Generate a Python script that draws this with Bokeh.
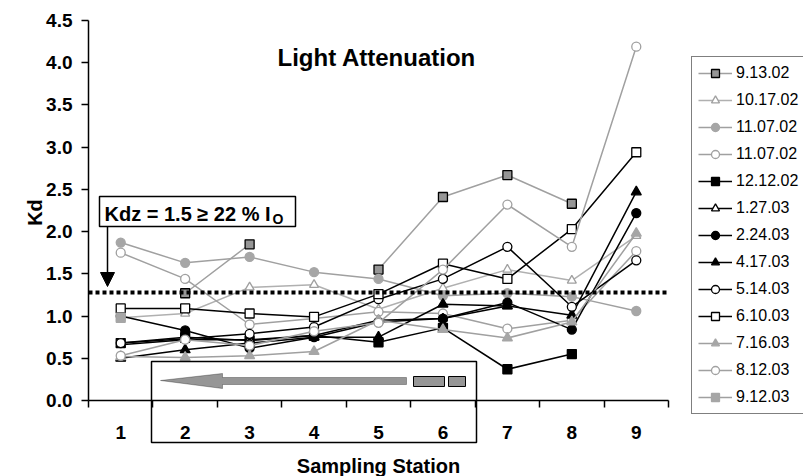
import numpy as np
from bokeh.plotting import figure
from bokeh.models import (FixedTicker, PrintfTickFormatter, Label, BoxAnnotation,
                          PolyAnnotation, Arrow, NormalHead, Legend, LegendItem, ColumnDataSource)
from bokeh.embed import file_html
from bokeh.resources import INLINE

nan = np.nan

stations = [1, 2, 3, 4, 5, 6, 7, 8, 9]
y_ticks = [0.0, 0.5, 1.0, 1.5, 2.0, 2.5, 3.0, 3.5, 4.0, 4.5]

labels = ["9.13.02", "10.17.02", "11.07.02", "11.07.02", "12.12.02", "1.27.03", "2.24.03",
          "4.17.03", "5.14.03", "6.10.03", "7.16.03", "8.12.03", "9.12.03"]

kd_091302 = [nan, 1.27, 1.85, nan, 1.55, 2.41, 2.67, 2.33, nan]
kd_101702 = [0.98, 1.03, 1.34, 1.37, 1.08, 1.33, 1.55, 1.42, 1.95]
kd_110702a = [1.87, 1.63, 1.70, 1.52, 1.44, 1.24, 1.27, 1.23, 1.06]
kd_110702b = [1.75, 1.44, 0.90, 0.97, 1.05, 1.03, 0.85, 0.95, 1.77]
kd_121202 = [0.68, 0.75, 0.71, 0.77, 0.69, 0.86, 0.37, 0.55, nan]
kd_012703 = [0.66, 0.72, 0.72, 0.77, 0.95, 0.97, 1.12, nan, nan]
kd_022403 = [1.00, 0.83, 0.62, 0.75, 0.93, 0.97, 1.16, 0.84, 2.22]
kd_041703 = [0.50, 0.60, 0.68, 0.75, 0.75, 1.14, 1.12, 1.01, 2.47]
kd_051403 = [0.68, 0.73, 0.79, 0.87, 1.20, 1.44, 1.82, 1.11, 1.66]
kd_061003 = [1.09, 1.09, 1.03, 0.99, 1.26, 1.62, 1.44, 2.03, 2.94]
kd_071603 = [0.52, 0.51, 0.53, 0.58, 0.95, 0.84, 0.74, 0.93, 1.98]
kd_081203 = [0.53, 0.72, 0.65, 0.82, 0.92, 1.55, 2.32, 1.82, 4.19]
kd_091203 = [0.98, nan, nan, nan, nan, nan, nan, nan, nan]

threshold = 1.28

series = [kd_091302, kd_101702, kd_110702a, kd_110702b, kd_121202, kd_012703, kd_022403,
          kd_041703, kd_051403, kd_061003, kd_071603, kd_081203, kd_091203]

G = "#A0A0A0"
styles = [
    (G, "square", "#969696", "black", 9),
    ("#B0B0B0", "triangle", "white", "#A0A0A0", 9),
    (G, "circle", "#A6A6A6", "#A6A6A6", 9),
    (G, "circle", "white", "#A0A0A0", 9),
    ("black", "square", "black", "black", 9),
    ("black", "triangle", "white", "black", 9),
    ("black", "circle", "black", "black", 9),
    ("black", "triangle", "black", "black", 10),
    ("black", "circle", "white", "black", 9),
    ("black", "square", "white", "black", 9),
    (G, "triangle", "#A6A6A6", "#A6A6A6", 10),
    (G, "circle", "white", "#A0A0A0", 9),
    (G, "square", "#A6A6A6", "#A6A6A6", 9),
]

FONT = "Liberation Sans"

# pixel geometry of the plotting area (x: 0.5..9.5 -> 88..668, y: 0..4.5 -> 400..20)
W, H = 803, 476
XL, XR, YB, YT = 88, 668, 400, 20
kx = (XR - XL) / 9.0
ky = (YB - YT) / 4.5
x_start = 0.5 - XL / kx
x_end = 0.5 + (W - XL) / kx
y_start = -(H - YB) / ky
y_end = 4.5 + YT / ky

p = figure(width=W, height=H, x_range=(x_start, x_end), y_range=(y_start, y_end),
           output_backend="svg", toolbar_location=None,
           min_border_left=0, min_border_right=0, min_border_top=0, min_border_bottom=0)
p.outline_line_color = None
p.xgrid.visible = False
p.ygrid.visible = False
p.background_fill_color = "white"
p.border_fill_color = "white"

# axes
p.yaxis.fixed_location = 0.5
p.yaxis.bounds = (0, 4.5)
p.yaxis.ticker = FixedTicker(ticks=y_ticks)
p.yaxis.formatter = PrintfTickFormatter(format="%.1f")
p.yaxis.major_tick_out = 7
p.yaxis.major_tick_in = 0
p.yaxis.minor_tick_out = 0
p.yaxis.minor_tick_in = 0
p.yaxis.major_label_standoff = 9

p.xaxis.fixed_location = 0
p.xaxis.bounds = (0.5, 9.5)
p.xaxis.ticker = FixedTicker(ticks=stations, minor_ticks=[s - 0.5 for s in stations] + [9.5])
p.xaxis.major_tick_out = 0
p.xaxis.major_tick_in = 0
p.xaxis.minor_tick_out = 7
p.xaxis.minor_tick_in = 0
p.xaxis.major_label_standoff = 18

for ax in (p.xaxis[0], p.yaxis[0]):
    ax.axis_line_color = "black"
    ax.axis_line_width = 1.5
    ax.major_tick_line_color = "black"
    ax.major_tick_line_width = 1.5
    ax.minor_tick_line_color = "black"
    ax.minor_tick_line_width = 1.5
    ax.major_label_text_font = FONT
    ax.major_label_text_font_style = "bold"
    ax.major_label_text_font_size = "19px"
    ax.major_label_text_color = "black"

items = []
for lab, vals, (lc, mk, fc, mlc, sz) in zip(labels, series, styles):
    src = ColumnDataSource(dict(x=stations, y=np.array(vals, dtype=float)))
    lr = p.line("x", "y", source=src, line_color=lc, line_width=1.5)
    sr = p.scatter("x", "y", source=src, marker=mk, size=sz, fill_color=fc,
                   line_color=mlc, line_width=1.3)
    items.append(LegendItem(label=lab, renderers=[lr, sr]))

# threshold line across the plotting area
p.line([0.5, 9.5], [threshold, threshold], line_color="black", line_width=4, line_dash="4 3")


def dx(px):
    return 0.5 + (px - XL) / kx


def dy(py):
    return (YB - py) / ky


# title
p.add_layout(Label(x=dx(277), y=dy(57), text="Light Attenuation", text_font=FONT,
                   text_font_style="bold", text_font_size="24px", text_color="black",
                   text_baseline="alphabetic", text_align="left"))

# axis titles
p.add_layout(Label(x=dx(378), y=dy(465), text="Sampling Station", text_font=FONT,
                   text_font_style="bold", text_font_size="20px", text_color="black",
                   text_baseline="middle", text_align="center"))
p.add_layout(Label(x=dx(34), y=dy(212), text="Kd", text_font=FONT, angle=np.pi / 2,
                   text_font_style="bold", text_font_size="20px", text_color="black",
                   text_baseline="middle", text_align="center"))

# Kdz annotation box
p.add_layout(BoxAnnotation(left=dx(99), right=dx(295), top=dy(196), bottom=dy(226),
                           fill_color="white", fill_alpha=1, line_color="black",
                           line_width=1.5, line_alpha=1))
p.add_layout(Label(x=dx(104), y=dy(213), text="Kdz = 1.5 \u2265 22 % I", text_font=FONT,
                   text_font_style="bold", text_font_size="20px", text_color="black",
                   text_baseline="alphabetic", text_align="left"))
p.add_layout(Label(x=dx(272), y=dy(218), text="O", text_font=FONT,
                   text_font_style="bold", text_font_size="14px", text_color="black",
                   text_baseline="alphabetic", text_align="left"))
p.add_layout(Arrow(end=NormalHead(size=14, fill_color="black", line_color="black"),
                   x_start=dx(107), y_start=dy(226), x_end=dx(107), y_end=dy(286),
                   line_color="black", line_width=1.5))

# direction box with gray arrow
p.add_layout(BoxAnnotation(left=dx(151), right=dx(476), top=dy(361), bottom=dy(442),
                           fill_alpha=0, line_color="black", line_width=1.5, line_alpha=1))
arrow_px = [(160, 380), (222, 373), (222, 377), (406, 377), (406, 384), (222, 384), (222, 388)]
p.add_layout(PolyAnnotation(xs=[dx(a) for a, b in arrow_px], ys=[dy(b) for a, b in arrow_px],
                            fill_color="#969696", fill_alpha=1, line_color="black", line_width=1))
for l, r in [(413, 444), (448, 465)]:
    p.add_layout(BoxAnnotation(left=dx(l), right=dx(r), top=dy(376), bottom=dy(386),
                               fill_color="#969696", fill_alpha=1, line_color="black",
                               line_width=1, line_alpha=1))

legend = Legend(items=items, location=(691, H - 414), orientation="vertical",
                label_text_font=FONT, label_text_font_size="16px", label_text_color="black",
                glyph_width=34, glyph_height=20, label_height=20, label_standoff=4,
                spacing=7, padding=6, margin=0,
                border_line_color="black", border_line_width=1,
                background_fill_color="white", background_fill_alpha=1)
p.add_layout(legend)

open("out.html", "w").write(file_html(p, INLINE))
